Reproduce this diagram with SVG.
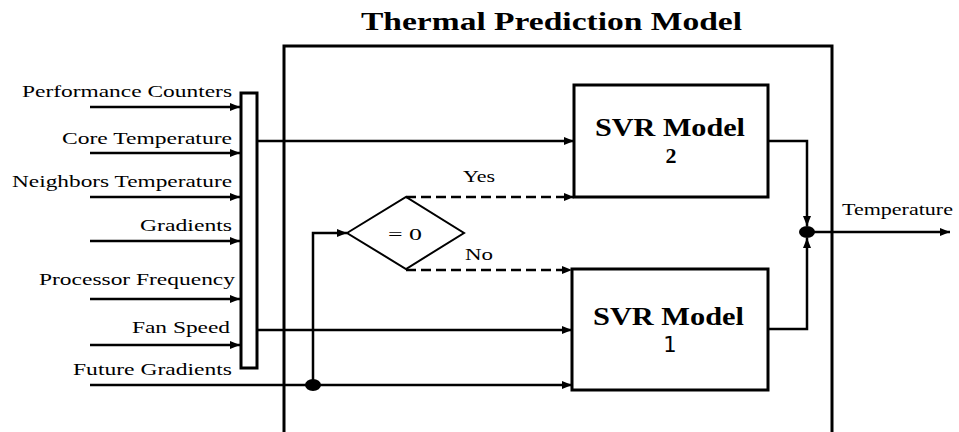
<svg xmlns="http://www.w3.org/2000/svg" width="959" height="432" viewBox="0 0 959 432" font-family="'Liberation Serif', Tinos, 'Times New Roman', 'Nimbus Roman', 'Nimbus Roman No9 L', FreeSerif, serif">
<style>
text{fill:#000}
.lbl{font-size:17px}
.bold{font-weight:bold}
.box{fill:#fff;stroke:#000;stroke-width:3}
.ln{fill:none;stroke:#000;stroke-width:2.5}
.dash{fill:none;stroke:#000;stroke-width:2.5;stroke-dasharray:10 5}
</style>
<defs>
<marker id="arr" markerUnits="userSpaceOnUse" markerWidth="11" markerHeight="9" refX="10" refY="4" orient="auto">
<path d="M0,0 L10,4 L0,8 z" fill="#000"/>
</marker>
</defs>
<rect width="959" height="432" fill="#fff"/>
<g id="model-frame">
<rect x="284" y="46" width="548" height="400" fill="none" stroke="#000" stroke-width="3"/>
<text x="361" y="30" font-size="26" class="bold" textLength="381" lengthAdjust="spacingAndGlyphs">Thermal Prediction Model</text>
</g>
<g id="inputs">
<text class="lbl" x="22" y="97" textLength="210" lengthAdjust="spacingAndGlyphs">Performance Counters</text>
<text class="lbl" x="62" y="144" textLength="170" lengthAdjust="spacingAndGlyphs">Core Temperature</text>
<text class="lbl" x="12" y="187" textLength="220" lengthAdjust="spacingAndGlyphs">Neighbors Temperature</text>
<text class="lbl" x="140" y="231" textLength="92" lengthAdjust="spacingAndGlyphs">Gradients</text>
<text class="lbl" x="39" y="285" textLength="196" lengthAdjust="spacingAndGlyphs">Processor Frequency</text>
<text class="lbl" x="132" y="333" textLength="98" lengthAdjust="spacingAndGlyphs">Fan Speed</text>
<text class="lbl" x="73" y="375" textLength="159" lengthAdjust="spacingAndGlyphs">Future Gradients</text>
</g>
<g id="selector">
<rect class="box" x="241" y="93" width="16" height="275"/>
</g>
<g id="decision">
<polygon points="347,233 406,197 464,233 406,269" fill="#fff" stroke="#000" stroke-width="2"/>
<text class="lbl" x="388" y="240" textLength="34" lengthAdjust="spacingAndGlyphs">= 0</text>
</g>
<g id="svr2">
<rect class="box" x="574" y="85" width="194" height="112"/>
<text x="595" y="136" font-size="25" class="bold" textLength="150" lengthAdjust="spacingAndGlyphs">SVR Model</text>
<text x="671" y="163" font-size="22" class="bold" text-anchor="middle">2</text>
</g>
<g id="svr1">
<rect class="box" x="572" y="269" width="196" height="121"/>
<text x="593" y="325" font-size="25" class="bold" textLength="151" lengthAdjust="spacingAndGlyphs">SVR Model</text>
<text x="670" y="352" font-size="21" text-anchor="middle" font-family="'DejaVu Sans', sans-serif">1</text>
</g>
<g id="connectors">
<path class="ln" d="M90,107 H240" marker-end="url(#arr)"/>
<path class="ln" d="M90,153 H240" marker-end="url(#arr)"/>
<path class="ln" d="M90,197 H240" marker-end="url(#arr)"/>
<path class="ln" d="M90,241 H240" marker-end="url(#arr)"/>
<path class="ln" d="M90,299 H240" marker-end="url(#arr)"/>
<path class="ln" d="M90,345 H240" marker-end="url(#arr)"/>
<path class="ln" d="M90,385 H572" marker-end="url(#arr)"/>
<path class="ln" d="M313,385 V233 H347" marker-end="url(#arr)"/>
<path class="ln" d="M258,141 H574" marker-end="url(#arr)"/>
<path class="ln" d="M258,330 H572" marker-end="url(#arr)"/>
<path class="dash" d="M406,197 H574" marker-end="url(#arr)"/>
<path class="dash" d="M406,270 H572" marker-end="url(#arr)"/>
<text class="lbl" x="463" y="182" textLength="32" lengthAdjust="spacingAndGlyphs">Yes</text>
<text class="lbl" x="465" y="260" textLength="28" lengthAdjust="spacingAndGlyphs">No</text>
<path class="ln" d="M768,141 H807 V226" marker-end="url(#arr)"/>
<path class="ln" d="M768,329 H807 V238" marker-end="url(#arr)"/>
<path class="ln" d="M807,232 H950" marker-end="url(#arr)"/>
<ellipse cx="313" cy="385" rx="8" ry="6" fill="#000"/>
<ellipse cx="807" cy="232" rx="8" ry="6" fill="#000"/>
<text class="lbl" x="842" y="215" textLength="111" lengthAdjust="spacingAndGlyphs">Temperature</text>
</g>
</svg>
